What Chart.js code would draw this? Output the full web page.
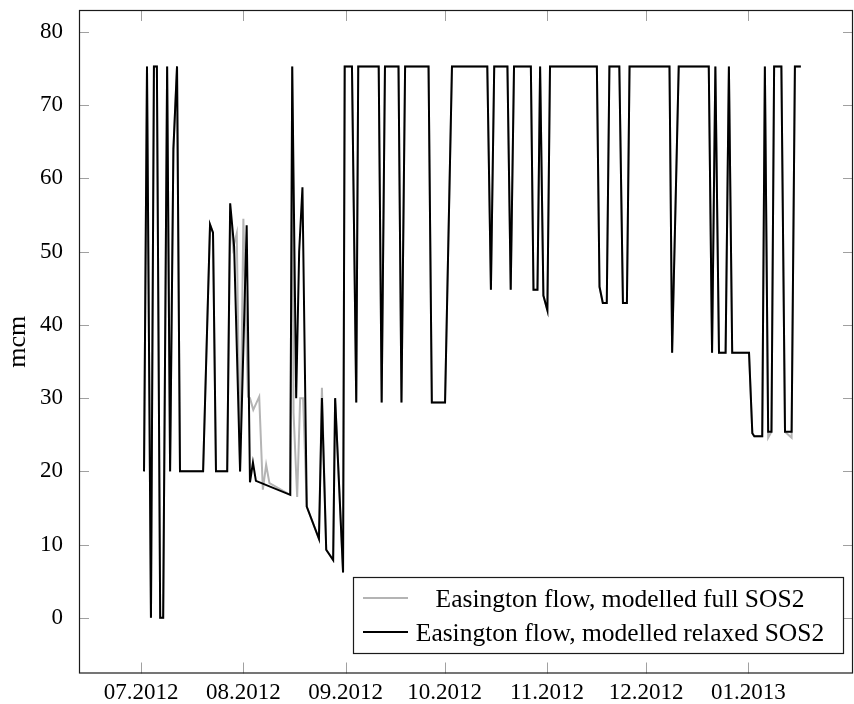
<!DOCTYPE html>
<html>
<head>
<meta charset="utf-8">
<script src="https://cdn.jsdelivr.net/npm/chart.js@4"></script>
<style>
  html, body { margin: 0; padding: 0; background: #fff; }
</style>
</head>
<body>
<canvas id="flow" width="854" height="704"></canvas>
<script>
// days counted from 1 July 2012
const monthDays = [0, 31, 62, 92, 123, 153, 184];
const monthLabels = ["07.2012", "08.2012", "09.2012", "10.2012", "11.2012", "12.2012", "01.2013"];
const yTicks = [0, 10, 20, 30, 40, 50, 60, 70, 80];

// Easington flow, modelled relaxed SOS2 (black)
const relaxedDays = [0.9, 1.8, 3.0, 3.9, 4.8, 5.8, 6.7, 7.9, 8.8, 9.8, 10.9, 11.8, 18.8, 20.9, 21.8, 22.7,
  26.1, 27.0, 28.2, 30.0, 32.0, 33.0, 33.9, 34.8, 45.2, 45.8, 47.0, 47.9, 48.9, 50.2, 53.9, 54.8, 56.1, 58.2, 58.8, 61.2,
  61.7, 63.9, 65.2, 65.8, 72.0, 72.9, 73.9, 78.0, 78.9, 80.0, 87.1, 88.1, 92.1, 94.2, 104.9, 106.0, 107.0, 111.0,
  112.0, 113.0, 118.1, 118.9, 120.1, 120.9, 121.9, 123.1, 123.9, 138.1, 138.9, 139.9, 141.1, 141.9, 144.9, 146.0,
  147.2, 148.0, 160.1, 160.9, 162.9, 172.0, 173.0, 174.0, 175.1, 177.1, 178.1, 179.1, 184.2, 185.2, 185.8, 188.2,
  189.0, 190.0, 191.0, 191.8, 194.0, 195.1, 197.1, 198.1, 199.9];
const relaxedFlow = [20, 75.3, 0, 75.3, 75.3, 0, 0, 75.3, 20, 64, 75.3, 20, 20, 53.7, 52.6, 20,
  20, 56.6, 50.7, 20, 53.6, 18.5, 21.2, 18.7, 16.8, 75.3, 30, 50, 58.8, 15.2, 10.8, 30, 9.3, 7.9, 30, 6.2,
  75.3, 75.3, 29.4, 75.3, 75.3, 29.4, 75.3, 75.3, 29.4, 75.3, 75.3, 29.4, 29.4, 75.3, 75.3, 44.8, 75.3, 75.3,
  44.8, 75.3, 75.3, 44.8, 44.8, 75.3, 44.0, 42.0, 75.3, 75.3, 45.2, 43.0, 43.0, 75.3, 75.3, 43.0,
  43.0, 75.3, 75.3, 36.2, 75.3, 75.3, 36.2, 75.3, 36.2, 36.2, 75.3, 36.2, 36.2, 25.2, 24.8, 24.8,
  75.3, 25.4, 25.4, 75.3, 75.3, 25.4, 25.4, 75.3, 75.3];

// Easington flow, modelled full SOS2 (grey)
const fullDays = [0.9, 1.8, 3.0, 3.9, 4.8, 5.8, 6.7, 7.9, 8.8, 9.8, 10.9, 11.8, 18.8, 20.9, 21.8, 22.7,
  26.1, 27.0, 27.9, 29.0, 30.0, 31.0, 32.4, 33.0, 34.0, 35.8, 36.9, 37.9, 38.9, 45.2, 45.8, 46.2, 47.3, 48.2, 49.1,
  50.2, 53.9, 54.8, 56.1, 58.2, 58.8, 61.2,
  61.7, 63.9, 65.2, 65.8, 72.0, 72.9, 73.9, 78.0, 78.9, 80.0, 87.1, 88.1, 92.1, 94.2, 104.9, 106.0, 107.0, 111.0,
  112.0, 113.0, 118.1, 118.9, 120.1, 120.9, 121.9, 123.1, 123.9, 138.1, 138.9, 139.9, 141.1, 141.9, 144.9, 146.0,
  147.2, 148.0, 160.1, 160.9, 162.9, 172.0, 173.0, 174.0, 175.1, 177.1, 178.1, 179.1, 184.2, 185.2, 185.8, 188.2,
  189.0, 190.0, 191.0, 191.8, 194.0, 195.1, 197.1, 198.1, 199.9];
const fullFlow = [20, 75.3, 0, 75.3, 75.3, 0, 0, 75.3, 20, 64, 75.3, 20, 20, 53.7, 52.6, 20,
  20, 55.5, 50.5, 52.5, 20, 54.5, 30.2, 30, 28.4, 30.2, 17.5, 20.9, 18.4, 16.8, 75.3, 28, 16.5, 30, 30,
  15.2, 10.8, 31.4, 9.3, 7.9, 30, 6.2,
  75.3, 75.3, 29.4, 75.3, 75.3, 29.4, 75.3, 75.3, 29.4, 75.3, 75.3, 29.4, 29.4, 75.3, 75.3, 44.8, 75.3, 75.3,
  44.8, 75.3, 75.3, 44.8, 44.8, 75.3, 44.0, 42.0, 75.3, 75.3, 45.2, 43.0, 43.0, 75.3, 75.3, 43.0,
  43.0, 75.3, 75.3, 36.2, 75.3, 75.3, 36.2, 75.3, 36.2, 36.2, 75.3, 36.2, 36.2, 25.2, 24.8, 24.8,
  75.3, 24.6, 25.4, 75.3, 75.3, 25.4, 24.6, 75.3, 75.3];

const serif = "'Liberation Serif', serif";

function toPoints(days, vals) {
  return days.map((d, i) => ({ x: d, y: vals[i] }));
}

// box, inward ticks and the legend, drawn like pgfplots does
const framePlugin = {
  id: "frame",
  afterDraw(chart) {
    const ctx = chart.ctx;
    const a = chart.chartArea;
    const xs = chart.scales.x;
    const ys = chart.scales.y;
    ctx.save();

    ctx.strokeStyle = "#a0a0a0";
    ctx.lineWidth = 1;
    ctx.beginPath();
    yTicks.forEach((v) => {
      const py = Math.round(ys.getPixelForValue(v)) + 0.5;
      ctx.moveTo(a.left, py); ctx.lineTo(a.left + 10, py);
      ctx.moveTo(a.right, py); ctx.lineTo(a.right - 10, py);
    });
    monthDays.forEach((d) => {
      const px = Math.round(xs.getPixelForValue(d)) + 0.5;
      ctx.moveTo(px, a.bottom); ctx.lineTo(px, a.bottom - 11);
      ctx.moveTo(px, a.top); ctx.lineTo(px, a.top + 11);
    });
    ctx.stroke();

    ctx.strokeStyle = "#1a1a1a";
    ctx.lineWidth = 1.2;
    ctx.strokeRect(a.left + 0.5, a.top + 0.5, a.right - a.left - 1, a.bottom - a.top - 1);

    // legend
    const lx = 353.5, ly = 577.5, lw = 490, lh = 76;
    ctx.fillStyle = "#fff";
    ctx.fillRect(lx, ly, lw, lh);
    ctx.strokeStyle = "#1a1a1a";
    ctx.lineWidth = 1.2;
    ctx.strokeRect(lx, ly, lw, lh);

    const rows = [
      { label: "Easington flow, modelled full SOS2", color: "#b4b4b4", y: 598 },
      { label: "Easington flow, modelled relaxed SOS2", color: "#000", y: 632 },
    ];
    ctx.font = "25.5px " + serif;
    ctx.textAlign = "center";
    ctx.textBaseline = "middle";
    rows.forEach((r) => {
      ctx.strokeStyle = r.color;
      ctx.lineWidth = 2;
      ctx.beginPath();
      ctx.moveTo(363, r.y);
      ctx.lineTo(408, r.y);
      ctx.stroke();
      ctx.fillStyle = "#000";
      ctx.fillText(r.label, 620, r.y + 2);
    });
    ctx.restore();
  },
};

new Chart(document.getElementById("flow"), {
  type: "line",
  data: {
    datasets: [
      {
        label: "Easington flow, modelled relaxed SOS2",
        data: toPoints(relaxedDays, relaxedFlow),
        borderColor: "#000",
        borderWidth: 2,
        pointRadius: 0,
        tension: 0,
        order: 0,
      },
      {
        label: "Easington flow, modelled full SOS2",
        data: toPoints(fullDays, fullFlow),
        borderColor: "#b4b4b4",
        borderWidth: 2,
        pointRadius: 0,
        tension: 0,
        order: 1,
      },
    ],
  },
  options: {
    responsive: false,
    animation: false,
    layout: { padding: { top: 10, right: 1, left: 0, bottom: 0 } },
    plugins: { legend: { display: false }, tooltip: { enabled: false } },
    scales: {
      x: {
        type: "linear",
        min: -18.8,
        max: 215.7,
        afterBuildTicks: (s) => { s.ticks = monthDays.map((v) => ({ value: v })); },
        afterFit: (s) => { s.height = 30.5; s.paddingLeft = 0; s.paddingRight = 0; },
        grid: { display: false, drawTicks: false },
        border: { display: false },
        ticks: {
          autoSkip: false,
          maxRotation: 0,
          padding: 6,
          color: "#000",
          font: { family: serif, size: 23 },
          callback: (v) => monthLabels[monthDays.indexOf(v)],
        },
      },
      y: {
        min: -7.6,
        max: 83,
        afterBuildTicks: (s) => { s.ticks = yTicks.map((v) => ({ value: v })); },
        afterFit: (s) => { s.width = 79; s.paddingTop = 0; s.paddingBottom = 0; },
        grid: { display: false, drawTicks: false },
        border: { display: false },
        ticks: { padding: 16, color: "#000", font: { family: serif, size: 23 } },
        title: {
          display: true,
          text: "mcm",
          color: "#000",
          font: { family: serif, size: 26 },
          padding: { top: 3, bottom: 0 },
        },
      },
    },
  },
  plugins: [framePlugin],
});
</script>
</body>
</html>
